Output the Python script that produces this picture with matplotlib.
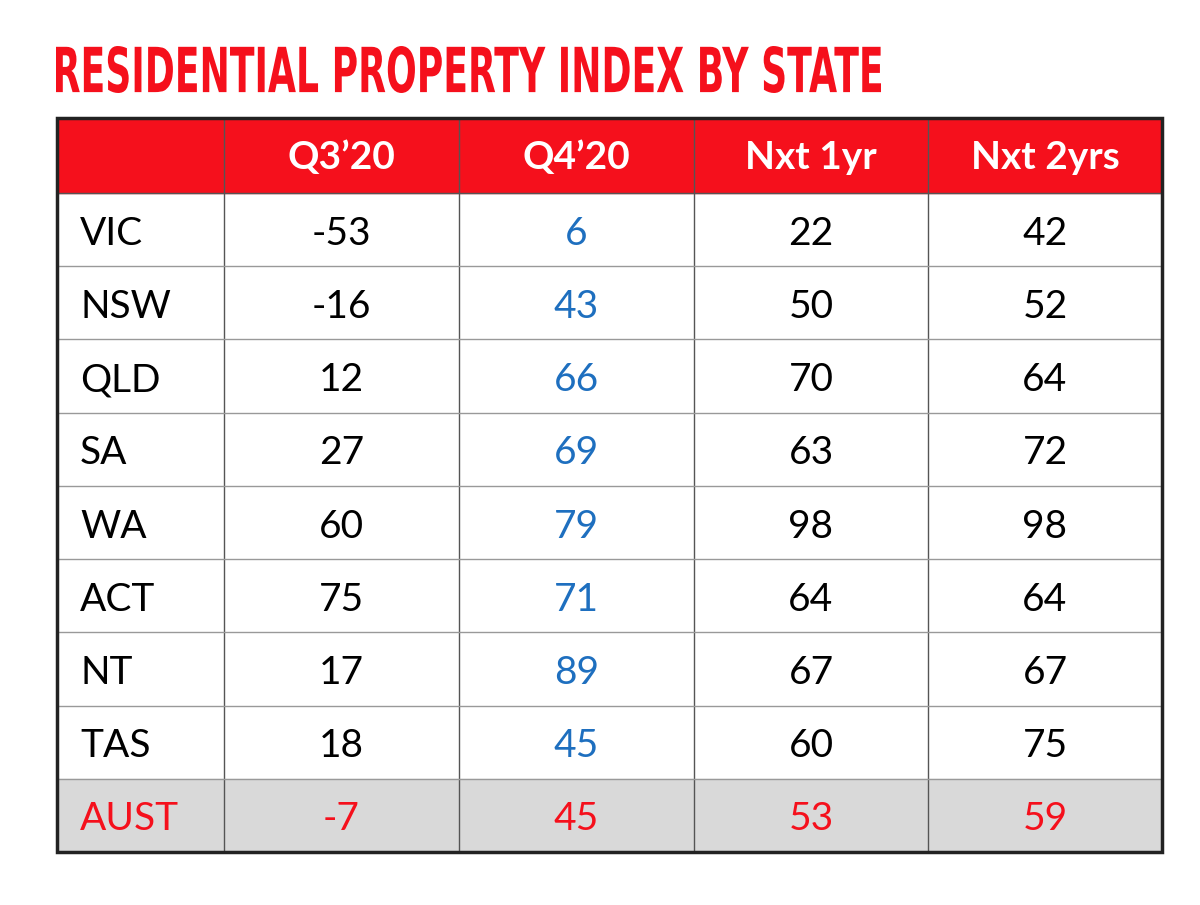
import matplotlib.pyplot as plt
from matplotlib.patches import Rectangle, PathPatch
from matplotlib.textpath import TextPath
from matplotlib.font_manager import FontProperties
from matplotlib.transforms import Affine2D

title = 'RESIDENTIAL PROPERTY INDEX BY STATE'
columns = ['', 'Q3\u201920', 'Q4\u201920', 'Nxt 1yr', 'Nxt 2yrs']
states = ['VIC', 'NSW', 'QLD', 'SA', 'WA', 'ACT', 'NT', 'TAS', 'AUST']
q3_20 = [-53, -16, 12, 27, 60, 75, 17, 18, -7]
q4_20 = [6, 43, 66, 69, 79, 71, 89, 45, 45]
nxt_1yr = [22, 50, 70, 63, 98, 64, 67, 60, 53]
nxt_2yrs = [42, 52, 64, 72, 98, 64, 67, 75, 59]

RED = '#f5101c'
BLUE = '#1e6fbf'
GREY = '#d9d9d9'

plt.rcParams['font.family'] = ['Lato', 'DejaVu Sans']

fig = plt.figure(figsize=(12, 9.05), dpi=100)
ax = fig.add_axes([0, 0, 1, 1])
ax.set_xlim(0, 1200)
ax.set_ylim(905, 0)
ax.axis('off')

# condensed title: squeeze a bold text path into the reference's box
tp = TextPath((0, 0), title, size=50, prop=FontProperties(family='DejaVu Sans', weight='bold'))
ext = tp.get_extents()
sx = 825 / ext.width
sy = 47 / ext.height
tr = Affine2D().translate(-ext.x0, -ext.y0).scale(sx, -sy).translate(56, 93) + ax.transData
ax.add_patch(PathPatch(tp, color=RED, lw=0, transform=tr))

xs = [57, 224, 459, 694, 928, 1162]
top, head_bottom, bottom = 118, 193, 852
row_h = (bottom - head_bottom) / len(states)

# header
ax.add_patch(Rectangle((xs[0], top), xs[-1] - xs[0], head_bottom - top, color=RED, zorder=1))
for i, c in enumerate(columns):
    ax.text((xs[i] + xs[i + 1]) / 2, (top + head_bottom) / 2 + 2, c, color='white',
            fontsize=28, fontweight='bold', ha='center', va='center', zorder=3)

# AUST row background
ax.add_patch(Rectangle((xs[0], bottom - row_h), xs[-1] - xs[0], row_h, color=GREY, zorder=1))

cols = [q3_20, q4_20, nxt_1yr, nxt_2yrs]
for r, st in enumerate(states):
    yc = head_bottom + (r + 0.5) * row_h + 4
    last = st == 'AUST'
    ax.text(80, yc, st, fontsize=28, ha='left', va='center',
            color=RED if last else 'black', zorder=3)
    for j, vals in enumerate(cols):
        color = RED if last else (BLUE if j == 1 else 'black')
        ax.text((xs[j + 1] + xs[j + 2]) / 2, yc, str(vals[r]), fontsize=28,
                ha='center', va='center', color=color, zorder=3)

# grid lines
for x in xs[1:-1]:
    ax.plot([x, x], [top, bottom], color='#555555', lw=1, zorder=2)
for r in range(1, len(states)):
    y = head_bottom + r * row_h
    ax.plot([xs[0], xs[-1]], [y, y], color='#999999', lw=1, zorder=2)
ax.plot([xs[0], xs[-1]], [head_bottom, head_bottom], color='#555555', lw=1, zorder=2)
ax.add_patch(Rectangle((xs[0], top), xs[-1] - xs[0], bottom - top, fill=False,
                       edgecolor='#222222', lw=2.5, zorder=4))

fig.savefig('out.png', dpi=100, facecolor='white')
